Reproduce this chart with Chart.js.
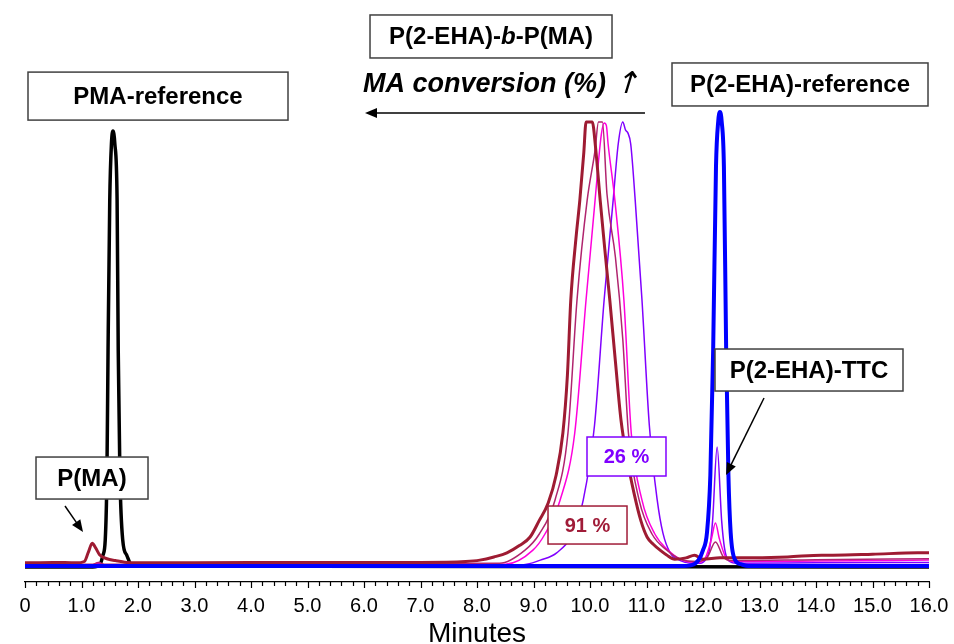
<!DOCTYPE html>
<html>
<head>
<meta charset="utf-8">
<script src="https://cdn.jsdelivr.net/npm/chart.js@4.4.1/dist/chart.umd.min.js"></script>
<style>
  html, body { margin: 0; padding: 0; background: #fff; }
  #wrap { position: relative; width: 954px; height: 644px; }
</style>
</head>
<body>
<div id="wrap"><canvas id="gpcChart"></canvas></div>
<script>
// Elution time (min) and normalised detector signal
const pmaRefTime   = [0, 1.2, 1.33, 1.38, 1.42, 1.45, 1.47, 1.50, 1.53, 1.557, 1.59, 1.63, 1.65, 1.68, 1.73, 1.80, 1.9, 16];
const pmaRefSignal = [-0.002, -0.002, 0.004, 0.024, 0.057, 0.2, 0.476, 0.806, 0.93, 0.958, 0.93, 0.806, 0.476, 0.2, 0.057, 0.024, 0, -0.002];

const ehaRefTime   = [0, 11.6, 11.8, 11.92, 12.0, 12.07, 12.13, 12.18, 12.23, 12.27, 12.30, 12.33, 12.37, 12.41, 12.45, 12.49, 12.57, 12.67, 12.8, 16];
const ehaRefSignal = [0, 0, 0.002, 0.013, 0.035, 0.073, 0.2, 0.476, 0.88, 0.98, 1.0, 0.98, 0.88, 0.476, 0.2, 0.073, 0.013, 0.004, 0, 0];

// block copolymer, 26 % MA conversion (violet)
const conv26Time   = [0, 1.2, 1.3, 1.4, 8.6, 8.88, 9.12, 9.41, 9.70, 9.88, 10.08, 10.25, 10.41, 10.50, 10.58, 10.63, 10.67, 10.72, 10.80, 10.92, 11.05, 11.19, 11.29, 11.42, 11.6, 11.8, 11.95, 12.05, 12.12, 12.17, 12.25, 12.33, 12.38, 12.45, 12.6, 14, 16];
const conv26Signal = [0.002, 0.002, 0.006, 0.002, 0.002, 0.004, 0.013, 0.029, 0.073, 0.145, 0.31, 0.586, 0.806, 0.93, 0.978, 0.96, 0.954, 0.93, 0.806, 0.586, 0.31, 0.145, 0.073, 0.029, 0.012, 0.006, 0.006, 0.015, 0.04, 0.1, 0.262, 0.1, 0.04, 0.012, 0.006, 0.007, 0.008];

// intermediate conversion (magenta)
const convMidTime   = [0, 1.2, 1.3, 1.4, 8.5, 8.99, 9.2, 9.47, 9.73, 9.93, 10.09, 10.2, 10.25, 10.29, 10.32, 10.44, 10.6, 10.73, 10.92, 11.15, 11.38, 11.6, 11.9, 12.05, 12.15, 12.22, 12.29, 12.4, 12.55, 14, 16];
const convMidSignal = [0.003, 0.003, 0.008, 0.003, 0.004, 0.035, 0.07, 0.145, 0.293, 0.586, 0.806, 0.95, 0.976, 0.97, 0.93, 0.806, 0.586, 0.293, 0.145, 0.07, 0.035, 0.015, 0.008, 0.02, 0.06, 0.095, 0.06, 0.02, 0.01, 0.011, 0.013];

// higher conversion (dark pink)
const convHighTime   = [0, 1.2, 1.3, 1.4, 8.4, 8.85, 9.1, 9.38, 9.61, 9.77, 9.95, 10.09, 10.15, 10.22, 10.3, 10.45, 10.58, 10.68, 10.87, 11.1, 11.36, 11.6, 11.9, 12.08, 12.22, 12.36, 12.5, 14, 16];
const convHighSignal = [0.004, 0.004, 0.008, 0.004, 0.006, 0.035, 0.07, 0.145, 0.293, 0.586, 0.806, 0.916, 0.978, 0.978, 0.82, 0.68, 0.5, 0.293, 0.145, 0.07, 0.035, 0.015, 0.01, 0.02, 0.053, 0.02, 0.012, 0.014, 0.016];

// block copolymer, 91 % MA conversion (thick dark red)
const conv91Time   = [0, 0.5, 0.9, 1.05, 1.12, 1.19, 1.25, 1.32, 1.45, 1.6, 1.8, 2.0, 3, 5, 7, 7.8, 8.05, 8.3, 8.53, 8.75, 8.94, 9.1, 9.26, 9.4, 9.52, 9.6, 9.66, 9.75, 9.82, 9.89, 9.93, 10.04, 10.1, 10.18, 10.26, 10.35, 10.45, 10.55, 10.65, 10.78, 10.9, 11.01, 11.12, 11.24, 11.35, 11.5, 11.7, 11.85, 12.0, 12.3, 12.6, 13.5, 14.1, 14.3, 15.0, 15.8, 16];
const conv91Signal = [0.007, 0.008, 0.007, 0.01, 0.03, 0.05, 0.04, 0.025, 0.016, 0.012, 0.008, 0.007, 0.007, 0.008, 0.008, 0.01, 0.013, 0.02, 0.029, 0.045, 0.064, 0.1, 0.139, 0.2, 0.293, 0.42, 0.586, 0.72, 0.806, 0.91, 0.978, 0.978, 0.92, 0.806, 0.7, 0.586, 0.45, 0.32, 0.24, 0.16, 0.1, 0.064, 0.048, 0.035, 0.025, 0.015, 0.018, 0.024, 0.015, 0.018, 0.018, 0.02, 0.024, 0.024, 0.026, 0.029, 0.029];

const toPoints = (times, signal) => times.map((t, i) => ({ x: t, y: signal[i] }));

// annotation boxes, anchored in data units (minutes, signal)
const labelBoxes = [
    { x: 2.354, y: 1.035, w: 260, h: 48, text: 'PMA-reference', color: '#000', border: '#404040' },
    { x: 13.717, y: 1.0606, w: 256, h: 43, text: 'P(2-EHA)-reference', color: '#000', border: '#404040' },
    { x: 13.876, y: 0.4317, w: 188, h: 42, text: 'P(2-EHA)-TTC', color: '#000', border: '#404040' },
    { x: 1.186, y: 0.1938, w: 112, h: 42, text: 'P(MA)', color: '#000', border: '#404040' },
    { x: 10.646, y: 0.2412, w: 79, h: 39, text: '26 %', color: '#8000FF', border: '#8000FF', size: 20 },
    { x: 9.956, y: 0.0903, w: 79, h: 38, text: '91 %', color: '#A01C38', border: '#A01C38', size: 20 }
];
const arrows = [
    { from: [0.708, 0.1322], to: [1.027, 0.0749] },
    { from: [13.080, 0.370], to: [12.407, 0.2004] },
    { from: [10.973, 0.9978], to: [6.018, 0.9978] }
];

const FONT = '"Liberation Sans", Arial, sans-serif';

function drawArrow(ctx, x1, y1, x2, y2) {
    const ang = Math.atan2(y2 - y1, x2 - x1);
    const len = 12, half = 5;
    ctx.beginPath();
    ctx.moveTo(x1, y1);
    ctx.lineTo(x2 - Math.cos(ang) * len * 0.8, y2 - Math.sin(ang) * len * 0.8);
    ctx.lineWidth = 1.5;
    ctx.strokeStyle = '#000';
    ctx.stroke();
    ctx.beginPath();
    ctx.moveTo(x2, y2);
    ctx.lineTo(x2 - Math.cos(ang) * len - Math.sin(ang) * half, y2 - Math.sin(ang) * len + Math.cos(ang) * half);
    ctx.lineTo(x2 - Math.cos(ang) * len + Math.sin(ang) * half, y2 - Math.sin(ang) * len - Math.cos(ang) * half);
    ctx.closePath();
    ctx.fillStyle = '#000';
    ctx.fill();
}

const annotationPlugin = {
    id: 'gpcAnnotations',
    afterDraw(chart) {
        const ctx = chart.ctx;
        const xs = chart.scales.x, ys = chart.scales.y;
        ctx.save();

        // tick marks: long every 1 min, short every 0.2 min
        ctx.strokeStyle = '#000';
        ctx.lineWidth = 1.2;
        const base = chart.chartArea.bottom;
        for (let k = 0; k <= 80; k++) {
            const px = Math.round(xs.getPixelForValue(k * 0.2)) + 0.5;
            ctx.beginPath();
            ctx.moveTo(px, base);
            ctx.lineTo(px, base + (k % 5 === 0 ? 6 : 4));
            ctx.stroke();
        }

        // boxed labels
        labelBoxes.forEach(b => {
            const cx = xs.getPixelForValue(b.x), cy = ys.getPixelForValue(b.y);
            ctx.fillStyle = '#fff';
            ctx.fillRect(cx - b.w / 2, cy - b.h / 2, b.w, b.h);
            ctx.lineWidth = 1.5;
            ctx.strokeStyle = b.border;
            ctx.strokeRect(cx - b.w / 2, cy - b.h / 2, b.w, b.h);
            ctx.fillStyle = b.color;
            ctx.font = 'bold ' + (b.size || 24) + 'px ' + FONT;
            ctx.textAlign = 'center';
            ctx.textBaseline = 'middle';
            ctx.fillText(b.text, cx, cy + 1);
        });

        // P(2-EHA)-b-P(MA) box with italic b
        {
            const cx = xs.getPixelForValue(8.248), cy = ys.getPixelForValue(1.1663);
            const w = 242, h = 43;
            ctx.fillStyle = '#fff';
            ctx.fillRect(cx - w / 2, cy - h / 2, w, h);
            ctx.lineWidth = 1.5;
            ctx.strokeStyle = '#404040';
            ctx.strokeRect(cx - w / 2, cy - h / 2, w, h);
            const parts = [['P(2-EHA)-', 'bold'], ['b', 'italic bold'], ['-P(MA)', 'bold']];
            let total = 0;
            parts.forEach(p => { ctx.font = p[1] + ' 24px ' + FONT; total += ctx.measureText(p[0]).width; });
            let tx = cx - total / 2;
            ctx.textAlign = 'left';
            ctx.textBaseline = 'middle';
            ctx.fillStyle = '#000';
            parts.forEach(p => {
                ctx.font = p[1] + ' 24px ' + FONT;
                ctx.fillText(p[0], tx, cy + 1);
                tx += ctx.measureText(p[0]).width;
            });
        }

        // MA conversion caption, with a slanted up-arrow glyph
        const capX = xs.getPixelForValue(5.982), capY = ys.getPixelForValue(1.0595);
        ctx.font = 'italic bold 27px ' + FONT;
        ctx.textAlign = 'left';
        ctx.textBaseline = 'middle';
        ctx.fillStyle = '#000';
        const capText = 'MA conversion (%)';
        ctx.fillText(capText, capX, capY);
        const arrowX = capX + ctx.measureText(capText + ' ').width;
        ctx.save();
        ctx.translate(arrowX + 2, capY);
        ctx.transform(1, 0, -0.3, 1, 0, 0);
        ctx.font = '30px "DejaVu Sans", ' + FONT;
        ctx.fillText('\u2191', 0, 0);
        ctx.restore();

        arrows.forEach(a => {
            drawArrow(ctx, xs.getPixelForValue(a.from[0]), ys.getPixelForValue(a.from[1]),
                xs.getPixelForValue(a.to[0]), ys.getPixelForValue(a.to[1]));
        });
        ctx.restore();
    }
};

Chart.defaults.font.family = FONT;

const ctx = document.getElementById('gpcChart').getContext('2d');
new Chart(ctx, {
    type: 'line',
    data: {
        datasets: [
            { label: 'P(2-EHA)-reference', data: toPoints(ehaRefTime, ehaRefSignal), borderColor: '#0000FF', borderWidth: 4, order: 0 },
            { label: '91 %', data: toPoints(conv91Time, conv91Signal), borderColor: '#9E1B32', borderWidth: 3, order: 1 },
            { label: 'high', data: toPoints(convHighTime, convHighSignal), borderColor: '#B0246E', borderWidth: 1.5, order: 2 },
            { label: 'mid', data: toPoints(convMidTime, convMidSignal), borderColor: '#FF00DD', borderWidth: 1.5, order: 3 },
            { label: '26 %', data: toPoints(conv26Time, conv26Signal), borderColor: '#8000FF', borderWidth: 1.5, order: 4 },
            { label: 'PMA-reference', data: toPoints(pmaRefTime, pmaRefSignal), borderColor: '#000', borderWidth: 3.5, order: 5 }
        ]
    },
    options: {
        responsive: true,
        maintainAspectRatio: false,
        animation: false,
        layout: { padding: { top: 100, left: 25, right: 25, bottom: 0 } },
        plugins: { legend: { display: false }, tooltip: { enabled: false } },
        elements: {
            point: { radius: 0 },
            line: { cubicInterpolationMode: 'monotone', fill: false }
        },
        scales: {
            x: {
                type: 'linear',
                min: 0,
                max: 16,
                border: { color: '#000', width: 1.2 },
                // tick marks themselves are drawn by the plugin (two lengths)
                grid: { drawOnChartArea: false, tickLength: 10, tickColor: 'rgba(0,0,0,0)' },
                ticks: {
                    stepSize: 1,
                    color: '#000',
                    padding: 4,
                    maxRotation: 0,
                    autoSkip: false,
                    font: { size: 20, lineHeight: 1 },
                    callback: v => v === 0 ? '0' : v.toFixed(1)
                },
                title: { display: true, text: 'Minutes', color: '#000', font: { size: 28, lineHeight: 0.714 }, padding: { top: 4, bottom: 0 } }
            },
            y: { display: false, min: -0.0352, max: 1.0264 }
        }
    },
    plugins: [annotationPlugin]
});
</script>
</body>
</html>
